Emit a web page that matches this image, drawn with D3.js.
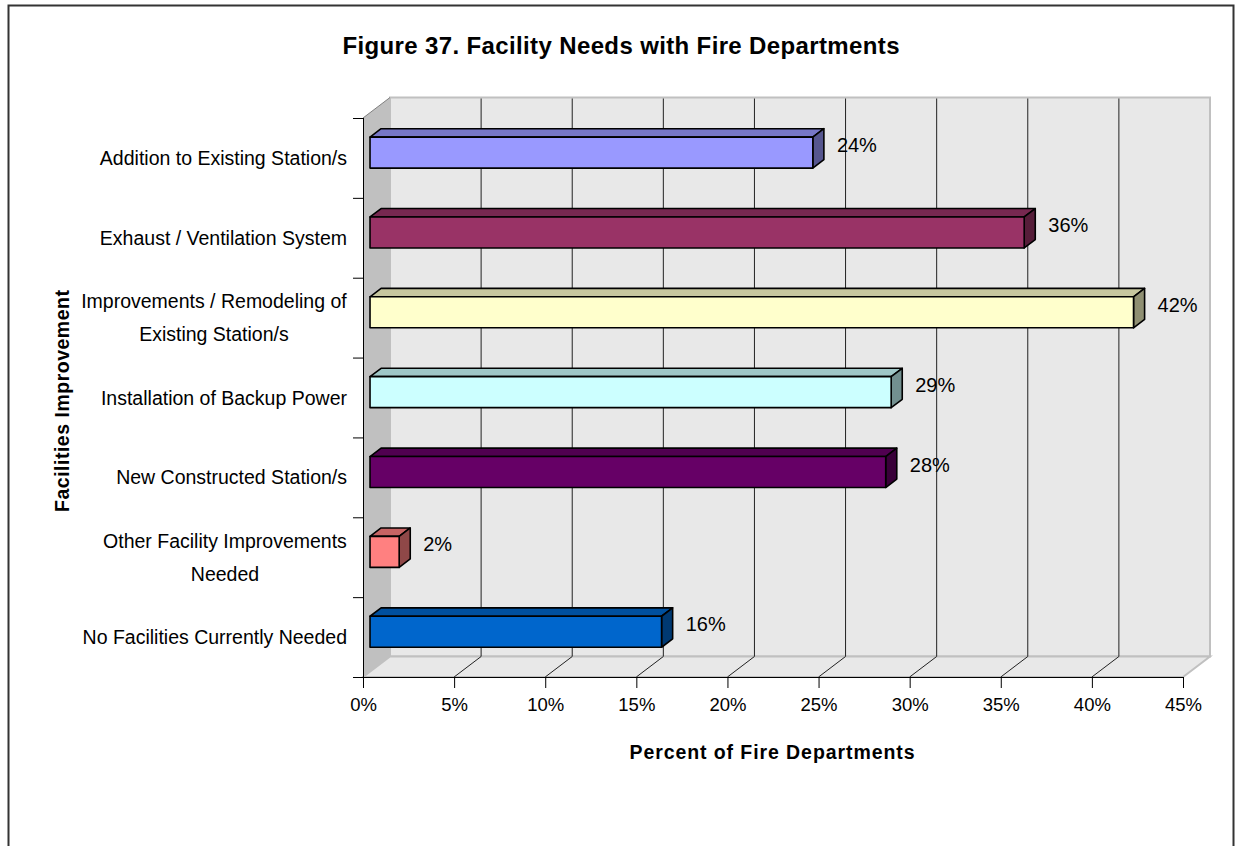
<!DOCTYPE html>
<html>
<head>
<meta charset="utf-8">
<script src="https://cdn.jsdelivr.net/npm/d3@7"></script>
<style>
  html, body { margin: 0; padding: 0; background: #fff; }
  svg { display: block; }
  text { font-family: "Liberation Sans", Arial, sans-serif; fill: #000; }
</style>
</head>
<body>
<svg id="chart" width="1236" height="846"></svg>
<script>
// Facility needs reported by fire departments (percent)
const categories = [
  ["Addition to Existing Station/s"],
  ["Exhaust / Ventilation System"],
  ["Improvements / Remodeling of", "Existing Station/s"],
  ["Installation of Backup Power"],
  ["New  Constructed Station/s"],
  ["Other Facility Improvements", "Needed"],
  ["No Facilities Currently Needed"]
];
const values = [24.3, 35.9, 41.9, 28.6, 28.3, 1.6, 16.0];
const barColors = ["#9999ff", "#993366", "#ffffcc", "#ccffff", "#660066", "#ff8080", "#0066cc"];
const xTicks = [0, 5, 10, 15, 20, 25, 30, 35, 40, 45];

const title = "Figure 37. Facility Needs with Fire Departments";
const xTitle = "Percent of Fire Departments";
const yTitle = "Facilities Improvement";

const svg = d3.select("#chart");

// outer frame
svg.append("rect")
  .attr("x", 8.5).attr("y", 5.5).attr("width", 1225).attr("height", 860)
  .attr("fill", "#fff").attr("stroke", "#333").attr("stroke-width", 2);

// plot geometry: front plane and depth vector of the 3-D box
const front = { left: 363, right: 1183, top: 118, bottom: 677 };
const depth = { dx: 27, dy: -20.5 };

const x = d3.scaleLinear().domain([0, 45]).range([front.left, front.right]);
const keys = categories.map((c, i) => i);
const y = d3.scaleBand().domain(keys).range([front.top, front.bottom]);

// project (value, y on front plane, z in 0..1 depth)
const P = (v, yy, z) => [x(v) + z * depth.dx, yy + z * depth.dy];
const poly = pts => "M" + pts.map(p => p.join(",")).join("L") + "Z";

const walls = svg.append("g");
// back wall
walls.append("path")
  .attr("d", poly([P(0, front.top, 1), P(45, front.top, 1), P(45, front.bottom, 1), P(0, front.bottom, 1)]))
  .attr("fill", "#e8e8e8").attr("stroke", "#c0c0c0").attr("stroke-width", 2);
// side wall
walls.append("path")
  .attr("d", poly([P(0, front.top, 0), P(0, front.top, 1), P(0, front.bottom, 1), P(0, front.bottom, 0)]))
  .attr("fill", "#c0c0c0").attr("stroke", "none");
// floor
walls.append("path")
  .attr("d", poly([P(0, front.bottom, 0), P(0, front.bottom, 1), P(45, front.bottom, 1), P(45, front.bottom, 0)]))
  .attr("fill", "#e8e8e8").attr("stroke", "#c0c0c0").attr("stroke-width", 2);
// side wall top edge
walls.append("path")
  .attr("d", "M" + P(0, front.top, 0).join(",") + "L" + P(0, front.top, 1).join(","))
  .attr("stroke", "#808080").attr("stroke-width", 1);

// gridlines on back wall and floor
const grid = svg.append("g").attr("stroke", "#222").attr("stroke-width", 1);
xTicks.filter(t => t > 0 && t < 45).forEach(t => {
  const a = P(t, front.top, 1), b = P(t, front.bottom, 1), c = P(t, front.bottom, 0);
  grid.append("path").attr("fill", "none")
    .attr("d", `M${a[0]},${a[1] + 1}L${b[0]},${b[1]}L${c[0]},${c[1]}`);
});

// x axis
const xAxis = svg.append("g").attr("transform", `translate(0,${front.bottom})`)
  .call(d3.axisBottom(x).tickValues(xTicks).tickFormat(d => d + "%").tickSize(11).tickSizeOuter(0).tickPadding(10));
xAxis.select(".domain").attr("stroke", "#000");
xAxis.selectAll(".tick line").attr("stroke", "#000");
xAxis.selectAll("text").attr("font-size", 18.5).attr("font-family", "Liberation Sans, Arial, sans-serif")
  .attr("fill", "#000");

// y axis (category boundaries ticked)
const yAxisG = svg.append("g");
yAxisG.append("line").attr("x1", front.left + 0.5).attr("x2", front.left + 0.5)
  .attr("y1", front.top).attr("y2", front.bottom + 11).attr("stroke", "#000");
keys.concat([keys.length]).forEach(i => {
  const yy = i < keys.length ? y(i) : front.bottom;
  yAxisG.append("line").attr("x1", front.left - 10).attr("x2", front.left)
    .attr("y1", yy + 0.5).attr("y2", yy + 0.5).attr("stroke", "#000");
});

// category labels
const catG = svg.append("g").attr("font-size", 19.5);
categories.forEach((lines, i) => {
  const cy = y(i) + y.bandwidth() / 2;
  const lh = 33;
  const t = catG.append("text").attr("x", 347).attr("y", cy - (lines.length - 1) * lh / 2)
    .attr("dominant-baseline", "central");
  lines.forEach((ln, k) => {
    t.append("tspan").attr("x", 347).attr("dy", k === 0 ? 0 : lh)
      .attr("text-anchor", lines.length > 1 ? "middle" : "end")
      .text(ln);
  });
  if (lines.length > 1) {
    // two-line labels are centred on their longest line, right edge at 347
    const w = t.node().getBBox().width;
    t.selectAll("tspan").attr("x", 347 - w / 2);
  }
});

// 3-D bars
const z0 = 0.26, z1 = 0.67, barH = 31;
const bars = svg.append("g");
values.forEach((v, i) => {
  const cy = y(i) + y.bandwidth() / 2;
  const yt = cy - barH / 2, yb = cy + barH / 2;
  const col = d3.color(barColors[i]);
  const topCol = d3.rgb(col.r * 0.78, col.g * 0.78, col.b * 0.78);
  const sideCol = d3.rgb(col.r * 0.56, col.g * 0.56, col.b * 0.56);
  const g = bars.append("g").attr("stroke", "#000").attr("stroke-width", 1.6).attr("stroke-linejoin", "round");
  g.append("path").attr("fill", topCol)
    .attr("d", poly([P(0, yt, z0), P(0, yt, z1), P(v, yt, z1), P(v, yt, z0)]));
  g.append("path").attr("fill", sideCol)
    .attr("d", poly([P(v, yt, z0), P(v, yt, z1), P(v, yb, z1), P(v, yb, z0)]));
  g.append("path").attr("fill", barColors[i])
    .attr("d", poly([P(0, yt, z0), P(v, yt, z0), P(v, yb, z0), P(0, yb, z0)]));
  // value label
  const lp = P(v, cy, z1);
  svg.append("text").attr("x", lp[0] + 13).attr("y", lp[1] + 1)
    .attr("dominant-baseline", "central").attr("font-size", 20)
    .text(d3.format(".0f")(v) + "%");
});

// titles
svg.append("text").attr("x", 621).attr("y", 45).attr("text-anchor", "middle")
  .attr("dominant-baseline", "central").attr("font-size", 24).attr("font-weight", "bold")
  .attr("textLength", 557).attr("lengthAdjust", "spacing").text(title);
svg.append("text").attr("x", 772).attr("y", 752).attr("text-anchor", "middle")
  .attr("dominant-baseline", "central").attr("font-size", 19.5).attr("font-weight", "bold")
  .attr("textLength", 285).attr("lengthAdjust", "spacing").text(xTitle);
svg.append("text").attr("transform", "translate(62,401) rotate(-90)").attr("text-anchor", "middle")
  .attr("dominant-baseline", "central").attr("font-size", 19.5).attr("font-weight", "bold")
  .attr("textLength", 222).attr("lengthAdjust", "spacing").text(yTitle);
</script>
</body>
</html>
